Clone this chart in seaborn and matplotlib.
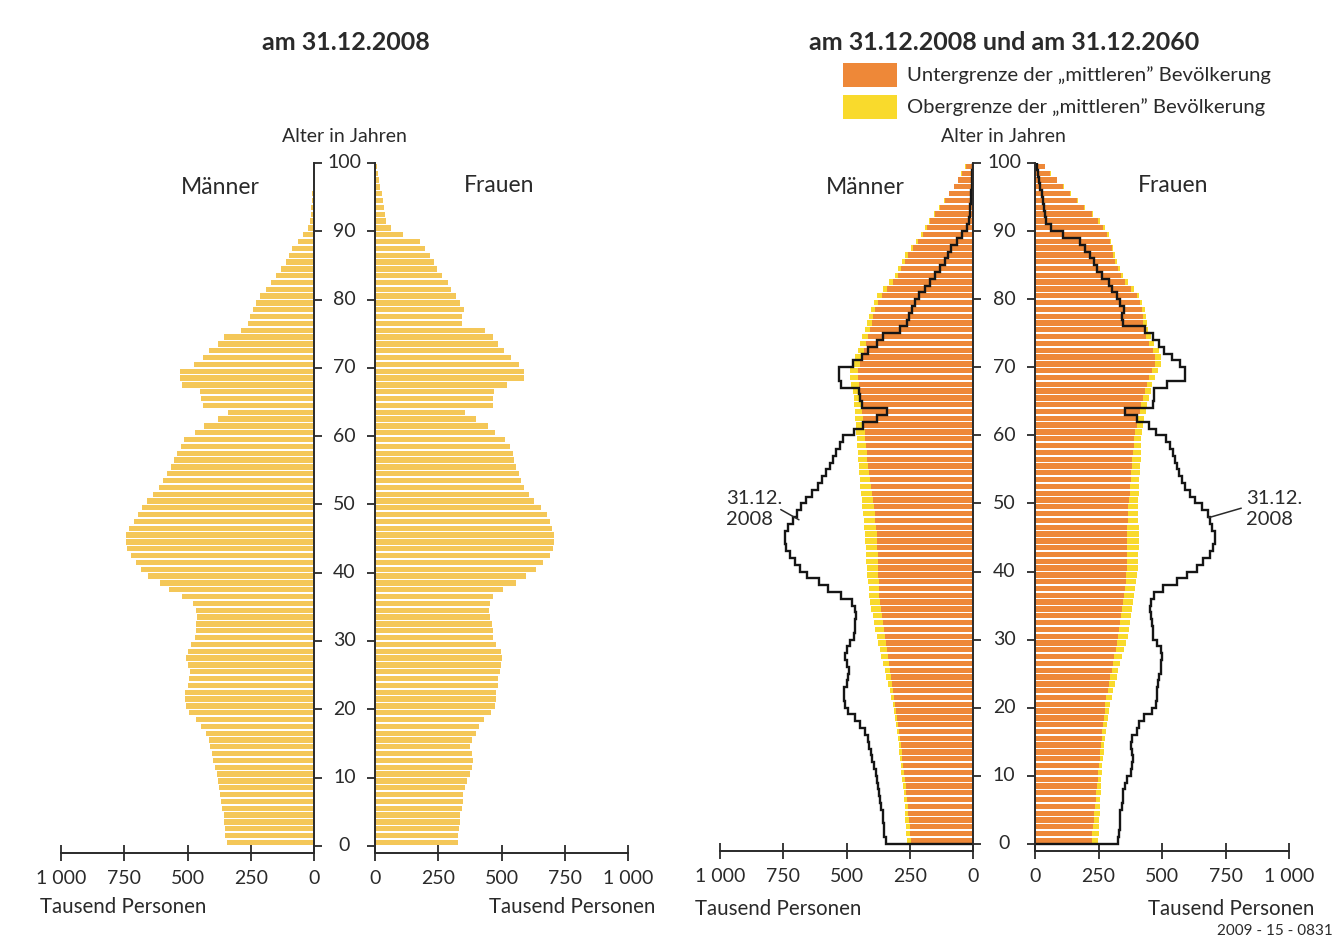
import numpy as np
import matplotlib
matplotlib.use('Agg')
import matplotlib.pyplot as plt
import matplotlib.transforms as mtransforms
from matplotlib.patches import Rectangle
import seaborn as sns

sns.set_style('white')
plt.rcParams['font.family'] = ['Lato', 'DejaVu Sans']

# Alter 0..99, Werte in Tausend Personen
alter = np.arange(100)

maenner_2008 = [345, 350, 352, 355, 357, 362, 366, 370, 375, 380,
                385, 392, 398, 405, 410, 415, 425, 445, 468, 495,
                505, 510, 508, 500, 495, 492, 498, 505, 500, 485,
                470, 466, 466, 462, 465, 478, 520, 572, 610, 655,
                685, 705, 725, 740, 745, 742, 730, 712, 697, 678,
                660, 635, 612, 595, 580, 565, 552, 540, 525, 512,
                470, 433, 380, 338, 440, 447, 450, 520, 528, 530,
                475, 440, 414, 381, 355, 290, 262, 252, 242, 228,
                215, 190, 170, 150, 130, 112, 100, 85, 65, 42,
                22, 15, 12, 10, 8, 6, 4, 3, 2, 1]

frauen_2008 = [328, 330, 333, 335, 336, 342, 346, 348, 355, 362,
               376, 382, 386, 382, 376, 382, 400, 410, 430, 460,
               475, 480, 480, 485, 488, 495, 498, 500, 498, 480,
               466, 466, 462, 455, 452, 455, 468, 505, 558, 597,
               636, 663, 690, 702, 708, 708, 698, 690, 680, 656,
               630, 610, 590, 578, 568, 558, 550, 545, 532, 515,
               475, 448, 400, 355, 466, 468, 470, 520, 590, 590,
               570, 538, 508, 488, 466, 433, 345, 342, 350, 335,
               322, 302, 290, 265, 245, 232, 218, 198, 178, 112,
               62, 44, 40, 36, 32, 26, 20, 14, 10, 6]

maenner_2060_unter = [245, 248, 250, 252, 255, 258, 261, 263, 266, 270,
                      273, 276, 279, 282, 286, 289, 292, 296, 300, 304,
                      308, 312, 316, 320, 324, 328, 332, 336, 340, 344,
                      348, 352, 356, 360, 364, 368, 370, 372, 373, 374,
                      374, 375, 377, 378, 380, 381, 383, 386, 388, 391,
                      395, 398, 402, 406, 410, 414, 417, 420, 422, 425,
                      427, 430, 433, 437, 440, 444, 447, 452, 456, 453,
                      447, 438, 430, 422, 415, 408, 401, 394, 387, 375,
                      361, 338, 316, 297, 283, 270, 257, 238, 218, 198,
                      183, 168, 150, 131, 112, 93, 74, 58, 44, 28]

maenner_2060_ober = [262, 264, 266, 267, 268, 270, 272, 274, 277, 280,
                     283, 286, 288, 291, 294, 297, 301, 305, 310, 314,
                     318, 324, 330, 336, 342, 348, 355, 362, 368, 375,
                     381, 387, 392, 397, 402, 407, 410, 413, 416, 418,
                     420, 421, 422, 424, 425, 427, 430, 432, 435, 437,
                     440, 442, 445, 447, 449, 451, 453, 455, 458, 460,
                     462, 464, 466, 468, 470, 472, 475, 482, 487, 485,
                     478, 466, 455, 446, 437, 428, 420, 411, 402, 391,
                     378, 354, 331, 310, 295, 281, 267, 247, 226, 205,
                     189, 173, 155, 135, 116, 96, 77, 60, 46, 30]

frauen_2060_unter = [223, 226, 228, 231, 233, 236, 239, 241, 244, 247,
                     249, 252, 254, 257, 259, 262, 265, 268, 271, 274,
                     276, 281, 286, 292, 297, 302, 307, 312, 317, 322,
                     328, 332, 336, 340, 344, 348, 351, 354, 357, 359,
                     361, 361, 362, 362, 363, 363, 364, 365, 366, 368,
                     370, 373, 375, 377, 379, 381, 383, 385, 388, 391,
                     394, 400, 406, 412, 418, 425, 432, 440, 450, 462,
                     472, 474, 464, 448, 436, 430, 427, 425, 421, 413,
                     400, 378, 356, 337, 325, 315, 308, 302, 295, 285,
                     269, 249, 223, 192, 165, 138, 112, 86, 60, 38]

frauen_2060_ober = [249, 250, 252, 253, 255, 256, 257, 259, 260, 261,
                    262, 265, 268, 270, 273, 276, 280, 284, 288, 292,
                    295, 302, 308, 315, 321, 328, 336, 344, 352, 360,
                    367, 371, 375, 379, 383, 387, 391, 395, 399, 403,
                    405, 406, 407, 408, 408, 408, 408, 407, 407, 407,
                    407, 408, 410, 411, 413, 415, 416, 417, 418, 419,
                    420, 425, 430, 436, 442, 448, 455, 462, 472, 485,
                    496, 498, 488, 470, 455, 446, 440, 437, 432, 423,
                    410, 388, 366, 346, 333, 322, 314, 308, 300, 290,
                    274, 254, 228, 196, 168, 141, 115, 88, 62, 40]

x_ticks = [0, 250, 500, 750, 1000]
x_labels = ['0', '250', '500', '750', '1 000']
alter_ticks = list(range(0, 101, 10))

farbe_2008 = '#F4C758'
farbe_unter = '#EE8838'
farbe_ober = '#F9DA2C'
dunkel = '#2a2a2a'

W, H = 1337, 941
fig = plt.figure(figsize=(W / 100, H / 100), dpi=100)


def achse(x0, x1, y_top, y_bot):
    return fig.add_axes([x0 / W, 1 - y_bot / H, (x1 - x0) / W, (y_bot - y_top) / H])


def ftext(x, y, s, **kw):
    kw.setdefault('color', dunkel)
    fig.text(x / W, 1 - y / H, s, **kw)


def balken(ax, werte, farbe):
    sns.barplot(x=werte, y=alter + 0.5, orient='h', native_scale=True, width=0.78,
                color=farbe, saturation=1, errorbar=None, linewidth=0, ax=ax)


def stil(ax, seite):
    ax.set_ylim(-1.05, 100)
    ax.set_xlabel('')
    ax.set_ylabel('')
    ax.set_facecolor('none')
    for s in ['top', 'left', 'right', 'bottom']:
        ax.spines[s].set_visible(False)
    ax.spines['bottom'].set_visible(True)
    ax.spines[seite].set_visible(True)
    for s in ['bottom', seite]:
        ax.spines[s].set_color(dunkel)
        ax.spines[s].set_linewidth(1.4)
    if seite == 'right':
        ax.set_xlim(1000, 0)
        ax.tick_params(axis='y', left=False, right=True)
    else:
        ax.set_xlim(0, 1000)
        ax.tick_params(axis='y', left=True, right=False)
    ax.set_yticks(alter_ticks)
    ax.set_yticklabels([])
    ax.tick_params(axis='y', direction='out', length=6, width=1.3, color=dunkel,
                   labelleft=False, labelright=False)
    ax.set_xticks(x_ticks)
    ax.set_xticklabels(x_labels, fontsize=14, color=dunkel)
    ax.tick_params(axis='x', bottom=True, direction='inout', length=12, width=1.3,
                   color=dunkel, pad=6)
    ax.grid(False)


def alter_labels(ax, xm):
    trans = mtransforms.blended_transform_factory(fig.transFigure, ax.transData)
    for t in alter_ticks:
        ax.text(xm / W, t, str(t), transform=trans, ha='center', va='center',
                fontsize=14, color=dunkel)


def linie_2008(ax, werte):
    xs = np.concatenate([[0], np.repeat(werte, 2), [0]])
    ys = np.concatenate([[0], np.repeat(np.arange(101), 2)[1:-1], [100]])
    ax.plot(xs, ys, color='#151515', lw=1.7, solid_joinstyle='miter')


# linke Pyramide: 31.12.2008
ax_m1 = achse(61, 314, 163, 853)
balken(ax_m1, maenner_2008, farbe_2008)
stil(ax_m1, 'right')
ax_f1 = achse(375, 628, 163, 853)
balken(ax_f1, frauen_2008, farbe_2008)
stil(ax_f1, 'left')
alter_labels(ax_m1, 344.5)

# rechte Pyramide: 2008 und 2060
ax_m2 = achse(720, 973, 163, 851)
balken(ax_m2, maenner_2060_ober, farbe_ober)
balken(ax_m2, maenner_2060_unter, farbe_unter)
linie_2008(ax_m2, maenner_2008)
stil(ax_m2, 'right')
ax_f2 = achse(1035, 1289, 163, 851)
balken(ax_f2, frauen_2060_ober, farbe_ober)
balken(ax_f2, frauen_2060_unter, farbe_unter)
linie_2008(ax_f2, frauen_2008)
stil(ax_f2, 'left')
alter_labels(ax_m2, 1004)

# Beschriftung 31.12. 2008
ax_m2.text(975, 49.2, '31.12.\n2008', ha='left', va='center', fontsize=14.5,
           color=dunkel, linespacing=1.3)
ax_m2.plot([760, 688], [49.1, 47.6], color=dunkel, lw=1.1)
ax_f2.text(830, 49.2, '31.12.\n2008', ha='left', va='center', fontsize=14.5,
           color=dunkel, linespacing=1.3)
ax_f2.plot([812, 683], [49.3, 47.9], color=dunkel, lw=1.1)

# Titel und Texte
ftext(346, 42, 'am 31.12.2008', ha='center', va='center', fontsize=18, fontweight='bold')
ftext(1004, 42, 'am 31.12.2008 und am 31.12.2060', ha='center', va='center',
      fontsize=18, fontweight='bold')
ftext(344, 136, 'Alter in Jahren', ha='center', va='center', fontsize=14)
ftext(1003, 136, 'Alter in Jahren', ha='center', va='center', fontsize=14)
ftext(220, 187, 'Männer', ha='center', va='center', fontsize=16.5)
ftext(499, 185, 'Frauen', ha='center', va='center', fontsize=16.5)
ftext(865, 187, 'Männer', ha='center', va='center', fontsize=16.5)
ftext(1173, 185, 'Frauen', ha='center', va='center', fontsize=16.5)
ftext(40, 907, 'Tausend Personen', ha='left', va='center', fontsize=14.8)
ftext(655, 907, 'Tausend Personen', ha='right', va='center', fontsize=14.8)
ftext(695, 909, 'Tausend Personen', ha='left', va='center', fontsize=14.8)
ftext(1314, 909, 'Tausend Personen', ha='right', va='center', fontsize=14.8)
ftext(1333, 931, '2009 - 15 - 0831', ha='right', va='center', fontsize=11)

# Legende
for y0, farbe, txt in [(63, farbe_unter, 'Untergrenze der \u201emittleren\u201d Bevölkerung'),
                       (95, farbe_ober, 'Obergrenze der \u201emittleren\u201d Bevölkerung')]:
    fig.add_artist(Rectangle((843 / W, 1 - (y0 + 24) / H), 54 / W, 24 / H,
                             transform=fig.transFigure, facecolor=farbe, edgecolor='none'))
    ftext(907, y0 + 12, txt, ha='left', va='center', fontsize=14.6)

fig.savefig('out.png', dpi=100, facecolor='white')
